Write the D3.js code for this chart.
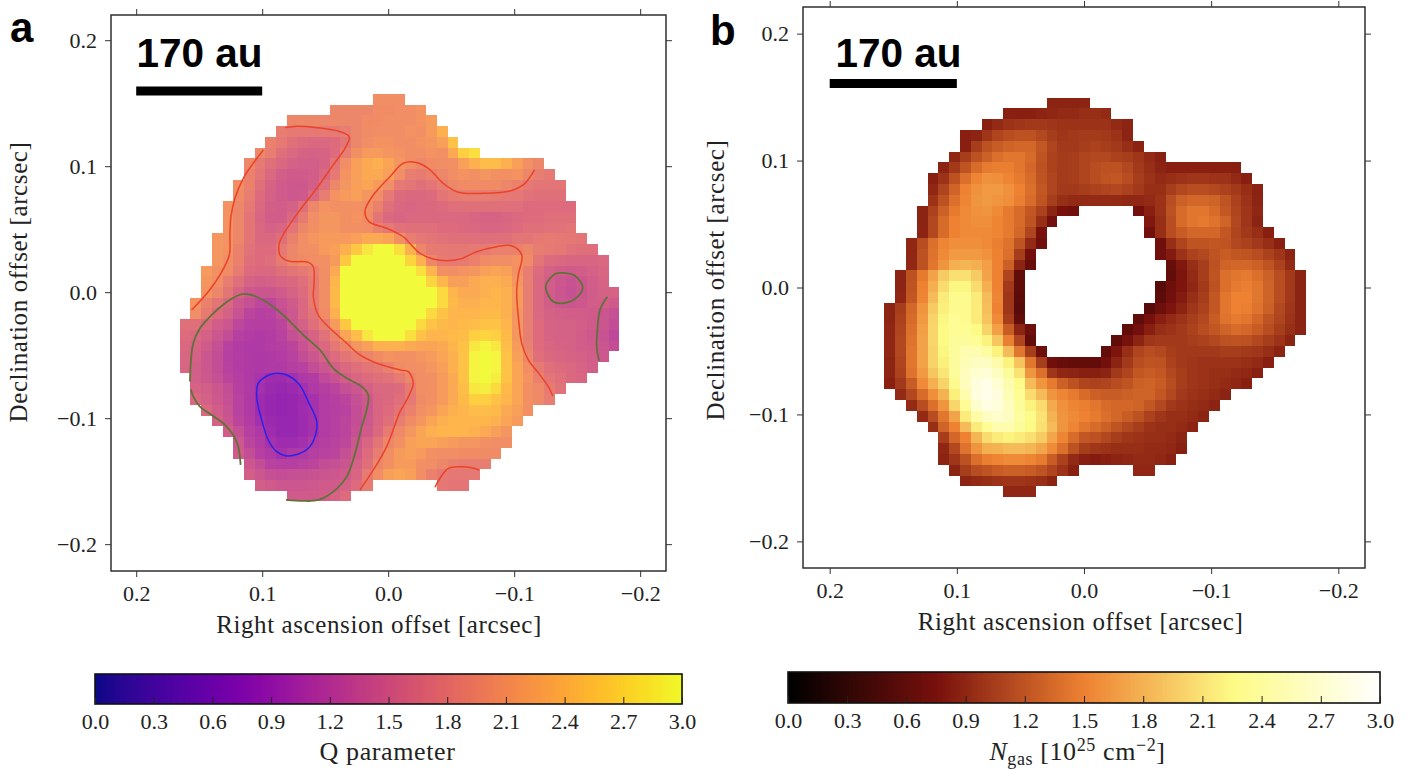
<!DOCTYPE html>
<html>
<head>
<meta charset="utf-8">
<script src="https://cdnjs.cloudflare.com/ajax/libs/d3/7.8.5/d3.min.js"></script>
<style>
html,body{margin:0;padding:0;background:#fff;}
svg{display:block;}
text{font-family:"Liberation Serif",serif;fill:#222;}
.bold{font-family:"Liberation Sans",sans-serif;font-weight:bold;fill:#000;}
</style>
</head>
<body>
<svg id="chart" width="1422" height="771"></svg>
<script>
const _ = null;
const tickVals = [0.2, 0.1, 0, -0.1, -0.2];
const barTicks = [0, 0.3, 0.6, 0.9, 1.2, 1.5, 1.8, 2.1, 2.4, 2.7, 3.0];
const pixel = 0.00851;   // arcsec per map cell

// Q parameter map, one row per declination, first column of each row in qStart
const qOrigin = [0.1655, 0.1573];
const qStart = [18,14,10,9,8,7,6,6,5,5,4,4,4,3,3,3,2,2,2,1,1,0,0,0,0,0,1,1,1,2,3,4,5,5,6,6,7,10];
const qRows = [
[2.05,2.05,2.05],
[1.97,1.97,1.97,1.97,2.02,2.02,2.05,2.05,2.1],
[1.97,1.97,1.97,1.97,1.97,1.97,1.97,2.02,2.02,2.05,2.05,2.05,2.1,2.18],
[1.87,1.82,1.82,1.82,1.82,1.82,1.87,1.97,2.02,2.05,2.05,2.05,2.1,2.08,2.18,2.38],
[1.92,1.82,1.72,1.67,1.62,1.62,1.67,1.77,1.97,2.05,2.1,2.1,2.05,2.05,2.1,2.13,2.23,2.55],
[1.97,1.87,1.72,1.62,1.57,1.54,1.57,1.67,1.87,2.08,2.18,2.18,2.13,2.1,2.05,2.05,2.1,2.08,2.33,2.65,2.8],
[1.97,1.82,1.72,1.62,1.54,1.52,1.52,1.57,1.77,2.05,2.23,2.33,2.38,2.28,2.13,2.05,1.97,2.02,2.05,2.08,2.23,2.38,2.5,2.5,2.38,2.23,2.08,1.97],
[1.92,1.77,1.62,1.52,1.47,1.47,1.5,1.62,1.82,2.1,2.23,2.33,2.33,2.23,2.05,1.87,1.84,1.92,1.97,2.05,2.1,2.08,2.13,2.08,2.08,2.1,1.97,1.87,1.82],
[2.05,1.92,1.72,1.57,1.47,1.44,1.44,1.52,1.72,1.97,2.13,2.23,2.28,2.18,2.05,1.82,1.77,1.72,1.77,1.87,1.97,2.02,2.02,2.02,2.02,1.97,1.92,1.82,1.77,1.77,1.77],
[2.02,1.87,1.67,1.54,1.47,1.44,1.45,1.62,1.87,2.1,2.18,2.23,2.13,2.05,1.82,1.67,1.64,1.64,1.67,1.77,1.84,1.87,1.87,1.87,1.84,1.82,1.8,1.74,1.72,1.72,1.72],
[2.1,1.97,1.82,1.62,1.52,1.5,1.54,1.72,1.97,2.1,2.08,2.08,2.08,2.05,1.92,1.72,1.62,1.6,1.62,1.64,1.67,1.7,1.72,1.72,1.72,1.72,1.7,1.7,1.67,1.67,1.67,1.67,1.67],
[2.1,1.97,1.77,1.6,1.5,1.5,1.62,1.84,2.05,2.13,2.13,2.08,2.1,2.02,1.77,1.64,1.6,1.62,1.64,1.64,1.64,1.64,1.62,1.6,1.57,1.57,1.6,1.64,1.67,1.67,1.7,1.7,1.7],
[2.1,1.97,1.77,1.62,1.54,1.6,1.77,1.97,2.08,2.13,2.13,2.08,2.08,2.05,1.9,1.82,1.74,1.72,1.72,1.7,1.67,1.67,1.64,1.62,1.6,1.6,1.62,1.67,1.72,1.72,1.74,1.74,1.77],
[2.13,2.1,1.97,1.77,1.64,1.62,1.72,1.92,2.05,2.13,2.18,2.18,2.18,2.23,2.33,2.33,2.28,2.08,1.87,1.8,1.77,1.74,1.72,1.72,1.7,1.7,1.7,1.72,1.77,1.77,1.82,1.84,1.82,1.8,1.77],
[2.13,2.1,1.92,1.74,1.67,1.67,1.82,1.97,2.05,2.08,2.18,2.23,2.38,2.6,2.85,3,3,2.8,2.38,1.97,1.84,1.82,1.8,1.8,1.82,1.84,1.9,1.92,1.92,1.97,1.87,1.82,1.8,1.74,1.72,1.7],
[2.13,2.05,1.92,1.72,1.67,1.7,1.84,1.97,2.02,2.05,2.08,2.18,2.6,3,3,3,3,3,2.7,2.38,1.97,1.84,1.82,1.84,1.92,2.02,2.05,2.05,2.1,2.02,1.77,1.67,1.62,1.6,1.6,1.6,1.62],
[2.18,2.08,2.02,1.84,1.67,1.62,1.64,1.72,1.77,1.82,1.9,2.05,2.33,3,3,3,3,3,3,3,2.8,2.43,2.08,2.05,2.1,2.13,2.23,2.28,2.23,2.08,1.87,1.67,1.54,1.5,1.47,1.5,1.54,1.6],
[2.13,2.05,1.87,1.7,1.57,1.52,1.54,1.6,1.64,1.7,1.84,2.05,2.43,3,3,3,3,3,3,3,3,2.7,2.43,2.23,2.23,2.33,2.38,2.38,2.33,2.13,1.87,1.62,1.5,1.42,1.37,1.42,1.5,1.57],
[2.1,1.97,1.77,1.57,1.44,1.4,1.4,1.47,1.57,1.67,1.84,2.05,2.48,3,3,3,3,3,3,3,3,3,2.75,2.43,2.33,2.33,2.38,2.43,2.38,2.18,1.87,1.62,1.48,1.4,1.34,1.4,1.48,1.54,1.57],
[2.1,1.92,1.77,1.62,1.44,1.34,1.24,1.24,1.37,1.47,1.62,1.84,2.05,2.48,3,3,3,3,3,3,3,3,3,2.75,2.48,2.38,2.38,2.43,2.43,2.38,2.18,1.87,1.62,1.5,1.42,1.4,1.44,1.5,1.5,1.47],
[2.05,1.84,1.67,1.54,1.37,1.21,1.16,1.18,1.32,1.44,1.62,1.77,2.02,2.38,3,3,3,3,3,3,3,3,2.75,2.55,2.43,2.43,2.43,2.48,2.48,2.38,2.13,1.87,1.62,1.54,1.52,1.5,1.5,1.47,1.4,1.34],
[1.72,1.72,1.62,1.5,1.42,1.24,1.16,1.14,1.14,1.21,1.42,1.54,1.7,1.87,2.18,2.6,3,3,3,3,3,3,2.75,2.55,2.48,2.43,2.48,2.5,2.55,2.55,2.43,2.13,1.87,1.67,1.57,1.54,1.54,1.52,1.47,1.4,1.32],
[1.67,1.62,1.54,1.42,1.32,1.16,1.11,1.08,1.11,1.18,1.34,1.44,1.57,1.74,1.94,2.28,2.5,2.85,3,3,3,2.8,2.55,2.43,2.43,2.48,2.5,2.65,2.7,2.65,2.48,2.13,1.87,1.67,1.57,1.54,1.54,1.5,1.44,1.37,1.24],
[1.62,1.57,1.47,1.34,1.18,1.11,1.08,1.08,1.11,1.14,1.21,1.37,1.5,1.64,1.8,1.94,2.13,2.23,2.38,2.38,2.38,2.33,2.28,2.28,2.33,2.43,2.55,2.85,2.95,2.85,2.5,2.18,1.9,1.67,1.6,1.57,1.54,1.5,1.47,1.4,1.32],
[1.6,1.54,1.42,1.32,1.16,1.11,1.08,1.06,1.08,1.11,1.18,1.32,1.42,1.54,1.67,1.77,1.87,1.94,2.02,2.1,2.08,2.08,2.13,2.18,2.28,2.38,2.55,2.95,3,2.95,2.55,2.23,1.97,1.72,1.64,1.6,1.57,1.54,1.5,1.44],
[1.6,1.52,1.42,1.32,1.18,1.11,1.08,1.06,1.08,1.08,1.14,1.18,1.32,1.42,1.52,1.62,1.7,1.77,1.82,1.9,2.02,2.05,2.08,2.13,2.23,2.38,2.55,2.95,3,2.95,2.55,2.28,2.05,1.84,1.72,1.67,1.62,1.57,1.52],
[1.52,1.44,1.34,1.21,1.14,1.08,1.0,0.92,0.92,0.95,1.06,1.11,1.27,1.37,1.5,1.6,1.67,1.7,1.74,1.84,1.97,2.05,2.08,2.18,2.33,2.55,2.95,3,2.9,2.55,2.28,2.1,1.9,1.77,1.7,1.64,1.6],
[1.57,1.52,1.42,1.32,1.16,1.08,0.95,0.88,0.85,0.88,0.95,1.08,1.14,1.21,1.34,1.42,1.54,1.62,1.64,1.67,1.84,2.04,2.08,2.18,2.33,2.5,2.85,2.9,2.75,2.48,2.28,2.08,2.0,1.84,1.74],
[1.62,1.54,1.44,1.34,1.18,1.08,0.92,0.85,0.82,0.85,0.9,0.98,1.11,1.16,1.21,1.34,1.44,1.6,1.64,1.7,1.82,2.02,2.08,2.18,2.33,2.48,2.65,2.65,2.55,2.43,2.28,2.08,2.0,1.87],
[1.62,1.5,1.37,1.18,1.08,0.92,0.85,0.82,0.85,0.92,0.98,1.11,1.14,1.18,1.32,1.42,1.6,1.67,1.77,1.92,2.07,2.13,2.28,2.38,2.43,2.5,2.5,2.48,2.33,2.23,2.08],
[1.54,1.4,1.21,1.11,0.95,0.88,0.85,0.85,0.9,0.98,1.11,1.16,1.21,1.32,1.44,1.6,1.72,1.87,2.02,2.13,2.28,2.38,2.43,2.43,2.43,2.43,2.38,2.28,2.18],
[1.5,1.34,1.16,1.06,0.92,0.85,0.85,0.9,0.98,1.11,1.16,1.21,1.34,1.47,1.64,1.84,2.0,2.13,2.28,2.38,2.43,2.43,2.43,2.38,2.33,2.23,2.13],
[1.44,1.21,1.11,0.98,0.92,0.92,0.95,1.08,1.14,1.18,1.24,1.42,1.6,1.77,1.97,2.08,2.23,2.28,2.28,2.23,2.18,2.13,2.13,2.08,2.05,2.05],
[1.47,1.32,1.16,1.08,0.98,1.06,1.08,1.14,1.18,1.21,1.34,1.47,1.67,1.87,2.05,2.18,2.23,2.18,2.08,2.05,2.05,2.02,2.02,2.02,2.02],
[1.42,1.32,1.18,1.16,1.16,1.18,1.21,1.32,1.34,1.4,1.54,1.72,1.97,2.08,2.18,2.18,2.08,2.05,1.97,1.9,1.87,1.87,1.87],
[1.52,1.42,1.34,1.32,1.34,1.34,1.37,1.4,1.42,1.47,1.6,1.84,2.05,2.23,2.28,2.23,2.05,1.92,1.82,1.8,1.8,1.82],
[1.52,1.47,1.42,1.42,1.42,1.44,1.47,1.47,1.54,1.67,1.84,_,_,_,_,_,_,1.8,1.77,1.77],
[1.47,1.47,1.47,1.5,1.57,1.67]
];

// gas column density map, units of 1e25 cm-2, nulls are the central hole
const nOrigin = [0.1571, 0.1496];
const nStart = [15,11,9,7,7,6,5,4,4,4,3,3,3,2,2,2,1,1,1,0,0,0,0,0,0,0,0,1,2,3,4,5,5,5,6,7,11];
const nRows = [
[0.88,0.88,0.88,0.88],
[0.85,0.85,0.85,0.88,0.9,0.92,0.92,0.95,0.95,0.92],
[0.85,0.92,0.98,1.0,1.02,1.02,1.0,0.98,0.98,0.98,0.98,0.98,0.92,0.88],
[0.85,0.88,1.0,1.1,1.15,1.18,1.18,1.12,1.05,1.0,1.02,1.03,1.03,1.02,0.98,0.88],
[0.85,1.05,1.18,1.25,1.3,1.32,1.32,1.22,1.1,1.02,1.02,1.05,1.08,1.05,1.02,0.95,0.87],
[0.9,1.05,1.18,1.28,1.38,1.42,1.42,1.35,1.2,1.08,1.03,1.05,1.1,1.12,1.12,1.08,1.05,1.0,0.92,0.86],
[0.88,1.02,1.2,1.35,1.45,1.48,1.48,1.42,1.32,1.18,1.08,1.03,1.05,1.1,1.15,1.18,1.18,1.12,1.02,0.95,0.88,0.85,0.85,0.85,0.85,0.85,0.85,0.85],
[0.85,0.98,1.18,1.38,1.52,1.6,1.58,1.52,1.45,1.35,1.2,1.1,1.03,1.05,1.1,1.15,1.2,1.22,1.15,1.05,0.98,0.92,0.95,0.98,1.0,1.0,0.98,0.98,0.92,0.85],
[0.9,1.1,1.3,1.5,1.6,1.65,1.65,1.6,1.5,1.38,1.22,1.1,1.02,1.02,1.05,1.08,1.1,1.12,1.08,1.02,0.95,0.95,1.05,1.12,1.15,1.15,1.12,1.08,1.02,0.95,0.87],
[0.98,1.18,1.38,1.52,1.62,1.65,1.62,1.58,1.48,1.35,1.2,1.05,0.95,0.92,0.92,0.92,0.92,0.92,0.9,0.9,0.92,0.98,1.15,1.28,1.32,1.32,1.3,1.2,1.08,0.98,0.88],
[0.88,1.08,1.28,1.45,1.55,1.6,1.62,1.55,1.45,1.35,1.22,1.08,0.88,0.75,0.7,_,_,_,_,_,0.72,0.85,0.98,1.18,1.35,1.42,1.42,1.35,1.22,1.1,1.0,0.9],
[0.88,1.12,1.35,1.5,1.55,1.58,1.58,1.52,1.45,1.35,1.2,0.95,0.72,_,_,_,_,_,_,_,_,0.8,0.95,1.15,1.35,1.42,1.45,1.4,1.3,1.12,1.0,0.88],
[0.88,1.12,1.35,1.5,1.55,1.55,1.55,1.52,1.45,1.32,1.1,0.75,_,_,_,_,_,_,_,_,_,0.72,0.95,1.15,1.25,1.32,1.32,1.32,1.22,1.1,1.02,0.95,0.85],
[0.9,1.15,1.38,1.52,1.58,1.58,1.58,1.55,1.48,1.4,1.2,0.92,0.7,_,_,_,_,_,_,_,_,_,_,0.7,0.95,1.1,1.2,1.2,1.22,1.2,1.12,1.08,1.02,0.95,0.85],
[0.9,1.18,1.4,1.55,1.65,1.65,1.65,1.6,1.5,1.38,1.05,0.72,_,_,_,_,_,_,_,_,_,_,_,0.7,0.82,0.98,1.08,1.12,1.2,1.25,1.22,1.2,1.15,1.08,1.0,0.88],
[0.9,1.18,1.42,1.62,1.78,1.82,1.78,1.68,1.5,1.28,0.88,0.65,_,_,_,_,_,_,_,_,_,_,_,_,0.65,0.8,0.95,1.05,1.18,1.3,1.32,1.32,1.28,1.2,1.08,0.92],
[0.88,1.18,1.45,1.7,1.95,2.08,2.08,1.95,1.7,1.5,1.1,0.62,_,_,_,_,_,_,_,_,_,_,_,_,_,0.62,0.78,0.92,1.05,1.2,1.38,1.42,1.45,1.38,1.28,1.15,1.02,0.88],
[0.88,1.2,1.5,1.78,2.05,2.22,2.22,2.05,1.78,1.5,1.02,0.6,_,_,_,_,_,_,_,_,_,_,_,_,0.55,0.68,0.78,0.9,1.02,1.18,1.38,1.45,1.48,1.42,1.3,1.15,1.02,0.88],
[0.9,1.22,1.52,1.85,2.15,2.3,2.32,2.15,1.85,1.52,1.0,0.58,_,_,_,_,_,_,_,_,_,_,_,_,0.58,0.72,0.82,0.95,1.05,1.22,1.42,1.5,1.5,1.42,1.3,1.15,1.02,0.88],
[0.88,1.05,1.32,1.62,1.95,2.18,2.3,2.3,2.15,1.88,1.5,1.0,0.55,_,_,_,_,_,_,_,_,_,_,_,0.55,0.68,0.78,0.88,1.0,1.08,1.22,1.42,1.5,1.48,1.4,1.28,1.12,1.0,0.88],
[0.88,1.08,1.35,1.65,2.0,2.22,2.35,2.3,2.15,1.9,1.55,1.05,0.62,_,_,_,_,_,_,_,_,_,_,0.6,0.75,0.85,0.92,0.98,1.05,1.12,1.25,1.4,1.45,1.42,1.32,1.2,1.1,0.98,0.88],
[0.9,1.1,1.38,1.68,2.02,2.25,2.35,2.35,2.25,2.0,1.68,1.25,0.88,0.68,_,_,_,_,_,_,_,_,0.6,0.72,0.85,0.95,0.98,1.02,1.08,1.15,1.22,1.3,1.35,1.32,1.25,1.15,1.05,0.95,0.88],
[0.9,1.12,1.4,1.7,2.02,2.25,2.38,2.4,2.35,2.2,1.92,1.48,1.1,0.62,_,_,_,_,_,_,_,0.6,0.75,0.88,1.0,1.02,1.02,1.02,1.05,1.08,1.12,1.18,1.2,1.18,1.12,1.05,0.98,0.88],
[0.9,1.12,1.42,1.7,2.0,2.22,2.4,2.5,2.5,2.42,2.2,1.85,1.42,1.05,0.68,_,_,_,_,_,0.62,0.78,0.95,1.1,1.15,1.12,1.05,1.02,1.02,1.02,1.02,1.05,1.05,1.02,1.0,0.95,0.87],
[0.88,1.1,1.42,1.7,2.0,2.18,2.4,2.55,2.62,2.62,2.48,2.2,1.9,1.42,1.05,0.7,0.65,0.62,0.62,0.62,0.72,0.88,1.02,1.15,1.2,1.18,1.08,1.02,1.0,0.98,0.98,0.98,0.98,0.95,0.92,0.85],
[0.88,1.08,1.4,1.65,1.92,2.12,2.38,2.6,2.72,2.75,2.62,2.38,2.1,1.62,1.38,1.0,0.9,0.88,0.85,0.85,0.88,1.02,1.1,1.22,1.25,1.22,1.12,1.05,1.0,0.98,0.95,0.95,0.92,0.9,0.85],
[0.85,1.02,1.25,1.55,1.78,2.0,2.32,2.6,2.8,2.85,2.72,2.5,2.28,1.85,1.62,1.45,1.28,1.18,1.1,1.08,1.1,1.15,1.2,1.28,1.3,1.25,1.15,1.05,1.0,0.98,0.95,0.92,0.9,0.85],
[0.92,1.12,1.35,1.58,1.8,2.18,2.5,2.8,2.88,2.8,2.55,2.35,2.05,1.85,1.62,1.52,1.45,1.35,1.28,1.25,1.25,1.28,1.3,1.3,1.22,1.12,1.02,0.98,0.95,0.92,0.88],
[0.92,1.15,1.38,1.62,2.02,2.35,2.7,2.82,2.78,2.6,2.38,2.2,2.05,1.75,1.6,1.52,1.48,1.42,1.35,1.32,1.32,1.3,1.22,1.12,1.02,0.98,0.95,0.92,0.88],
[0.92,1.15,1.42,1.7,2.15,2.45,2.62,2.68,2.62,2.42,2.28,2.1,1.8,1.62,1.55,1.5,1.45,1.38,1.32,1.25,1.18,1.08,1.0,0.95,0.95,0.92,0.88],
[0.95,1.3,1.5,1.85,2.15,2.35,2.5,2.5,2.38,2.25,2.08,1.85,1.62,1.52,1.42,1.35,1.28,1.2,1.12,1.05,0.98,0.95,0.95,0.92,0.88],
[1.05,1.32,1.5,1.82,2.05,2.15,2.2,2.15,2.08,1.95,1.72,1.52,1.35,1.22,1.18,1.12,1.05,1.0,0.98,0.95,0.95,0.92,0.88],
[0.9,1.12,1.4,1.62,1.78,1.8,1.85,1.85,1.82,1.72,1.55,1.38,1.18,1.05,1.0,0.98,0.95,0.95,0.95,0.92,0.92,0.9,0.85],
[0.88,1.0,1.18,1.38,1.48,1.52,1.55,1.55,1.52,1.45,1.25,1.08,0.92,0.85,0.82,0.85,0.88,0.9,0.92,0.92,0.9,0.86],
[0.88,1.05,1.15,1.2,1.25,1.28,1.28,1.25,1.2,1.1,0.98,0.85,_,_,_,_,_,0.9,0.9],
[0.88,0.92,0.95,0.98,1.0,1.0,0.98,0.95,0.88],
[0.9,0.9,0.9]
];

// Q contours, [RA offset, Dec offset] in arcsec
const redMain = [[.0819,.1306],[.0726,.1317],[.0567,.1306],[.0383,.1274],[.0309,.1234],[.0343,.1142],[.0436,.1010],[.0567,.0825],[.0700,.0652],[.0819,.0480],[.0864,.0388],[.0859,.0295],[.0793,.0248],[.0634,.0237],[.0594,.0202],[.0589,.0057],[.0594,-.0036],[.0555,-.0181],[.0462,-.0287],[.0343,-.0393],[.0224,-.0498],[.0091,-.0564],[-.0094,-.0617],[-.0160,-.0631],[-.0199,-.0723],[-.0147,-.0856],[-.0094,-.0948],[.0012,-.1226],[.0118,-.1411],[.0224,-.1570]];
const redEdge = [[.0991,.1129],[.1071,.1023],[.1150,.0904],[.1216,.0745],[.1248,.0599],[.1256,.0454],[.1261,.0295],[.1335,.0137],[.1428,.0004],[.1560,-.0141]];
const redMid = [[-.1160,.0970],[-.1086,.0864],[-.0967,.0803],[-.0755,.0785],[-.0556,.0793],[-.0437,.0864],[-.0318,.0983],[-.0213,.1031],[-.0120,.1023],[-.0014,.0917],[.0118,.0771],[.0184,.0644],[.0152,.0560],[.0012,.0507],[-.0120,.0440],[-.0160,.0401],[-.0252,.0309],[-.0358,.0263],[-.0464,.0250],[-.0570,.0263],[-.0702,.0321],[-.0861,.0361],[-.0980,.0369],[-.1060,.0295],[-.1033,.0137],[-.1020,.0004],[-.1033,-.0194],[-.1060,-.0406],[-.1112,-.0538],[-.1205,-.0657],[-.1271,-.0750],[-.1306,-.0824]];
const redLow = [[-.0371,-.1548],[-.0411,-.1477],[-.0477,-.1398],[-.0570,-.1385],[-.0663,-.1393],[-.0723,-.1411]];
const greenRing = [[-.1324,.0144],[-.1403,.0152],[-.1483,.0131],[-.1544,.0044],[-.1536,.0004],[-.1469,-.0062],[-.1390,-.0088],[-.1310,-.0075],[-.1258,.0004],[-.1252,.0057]];
const greenRight = [[-.1739,-.0036],[-.1681,-.0141],[-.1660,-.0300],[-.1655,-.0433],[-.1673,-.0544]];
const greenMain = [[.1573,-.0710],[.1567,-.0564],[.1547,-.0406],[.1494,-.0287],[.1401,-.0181],[.1295,-.0088],[.1202,-.0030],[.1137,-.0014],[.1044,-.0036],[.0912,-.0115],[.0806,-.0207],[.0674,-.0340],[.0541,-.0459],[.0436,-.0604],[.0329,-.0683],[.0210,-.0750],[.0158,-.0816],[.0171,-.0935],[.0210,-.1067],[.0263,-.1279],[.0329,-.1464],[.0436,-.1583],[.0555,-.1649],[.0674,-.1657],[.0811,-.1649]];
const greenLow = [[.1567,-.0771],[.1547,-.0829],[.1494,-.0909],[.1401,-.0975],[.1309,-.1040],[.1229,-.1133],[.1190,-.1226],[.1171,-.1371]];
const blueRing = [[.0885,-.0644],[.0806,-.0657],[.0713,-.0723],[.0634,-.0869],[.0567,-.1028],[.0581,-.1147],[.0634,-.1239],[.0713,-.1284],[.0806,-.1300],[.0885,-.1266],[.0952,-.1173],[.1004,-.1014],[.1044,-.0829],[.1031,-.0723],[.0964,-.0665]];

const contourSets = [
  {pts: redMain, color: '#ea4328', w: 1.5}, {pts: redEdge, color: '#ea4328', w: 1.5},
  {pts: redMid, color: '#ea4328', w: 1.5}, {pts: redLow, color: '#ea4328', w: 1.5},
  {pts: greenRing, color: '#5f7238', w: 1.8, closed: true}, {pts: greenRight, color: '#5f7238', w: 1.8},
  {pts: greenMain, color: '#5f7238', w: 1.8}, {pts: greenLow, color: '#5f7238', w: 1.8},
  {pts: blueRing, color: '#2a22ea', w: 1.5, closed: true}
];

const svg = d3.select('#chart');

// afmhot as it looks in the figure
const afmhot = d3.scaleLinear()
    .domain([0, 0.75, 1.5, 2.25, 3])
    .range(['#000000', '#78100c', '#ee8232', '#fdfb85', '#ffffff'])
    .clamp(true);
const plasma = v => d3.interpolatePlasma(Math.min(v / 3, 1));

function drawPanel(opt){
    let x = d3.scaleLinear().domain(opt.xDomain).range(opt.xRange),
        y = d3.scaleLinear().domain(opt.yDomain).range(opt.yRange);
    let g = svg.append('g');

    // map cells
    let cells = [];
    opt.rows.forEach((row, r)=>{
        row.forEach((v, i)=>{
            if(v !== null) cells.push({r: r, c: opt.start[r] + i, v: v});
        });
    });
    g.selectAll('rect.cell').data(cells).enter().append('rect')
        .attr('class', 'cell')
        .attr('x', d=>x(opt.origin[0] - d.c * pixel))
        .attr('y', d=>y(opt.origin[1] - d.r * pixel))
        .attr('width', d=>x(opt.origin[0] - (d.c + 1) * pixel) - x(opt.origin[0] - d.c * pixel))
        .attr('height', d=>y(opt.origin[1] - (d.r + 1) * pixel) - y(opt.origin[1] - d.r * pixel))
        .attr('shape-rendering', 'crispEdges')
        .attr('fill', d=>opt.color(d.v))
        .attr('fill-opacity', opt.alpha);

    // contours
    (opt.contours || []).forEach(s=>{
        let line = d3.line().x(d=>x(d[0])).y(d=>y(d[1]))
            .curve(s.closed ? d3.curveCatmullRomClosed : d3.curveCatmullRom);
        g.append('path').attr('d', line(s.pts)).attr('fill', 'none')
            .attr('stroke', s.color).attr('stroke-width', s.w);
    });

    // frame and ticks on all four sides
    g.append('rect').attr('x', opt.xRange[0]).attr('y', opt.yRange[0])
        .attr('width', opt.xRange[1] - opt.xRange[0]).attr('height', opt.yRange[1] - opt.yRange[0])
        .attr('fill', 'none').attr('stroke', '#222').attr('stroke-width', 1.4);

    let fmt = d=>d3.format('.1f')(d).replace('-', '\u2212');
    let axes = [
        [d3.axisBottom(x).tickFormat(fmt), 0, opt.yRange[1]],
        [d3.axisTop(x).tickFormat(''), 0, opt.yRange[0]],
        [d3.axisLeft(y).tickFormat(fmt), opt.xRange[0], 0],
        [d3.axisRight(y).tickFormat(''), opt.xRange[1], 0]
    ];
    axes.forEach(a=>{
        let ag = g.append('g').attr('transform', `translate(${a[1]},${a[2]})`)
            .call(a[0].tickValues(tickVals).tickSize(6).tickPadding(8));
        ag.select('.domain').remove();
        ag.selectAll('line').attr('stroke', '#333').attr('stroke-width', 1);
        ag.selectAll('text').style('font-size', '22px').attr('font-family', null);
    });

    // axis titles
    g.append('text').attr('x', opt.xTitleX).attr('y', opt.xTitleY)
        .attr('text-anchor', 'middle').style('font-size', '25px').style('letter-spacing', '0.6px')
        .text('Right ascension offset [arcsec]');
    g.append('text').attr('transform', `translate(${opt.yTitleX},${opt.yTitleMid}) rotate(-90)`)
        .attr('text-anchor', 'middle').style('font-size', '25px').style('letter-spacing', '0.6px')
        .text('Declination offset [arcsec]');

    // panel letter and scale bar
    g.append('text').attr('class', 'bold').attr('x', opt.letterX).attr('y', opt.letterY)
        .style('font-size', '42px').text(opt.letter);
    g.append('text').attr('class', 'bold').attr('x', opt.scaleTextX).attr('y', opt.scaleTextY)
        .attr('text-anchor', 'middle').style('font-size', '40.5px').text('170 au');
    g.append('line').attr('x1', x(0.2)).attr('x2', x(0.1)).attr('y1', opt.scaleBarY).attr('y2', opt.scaleBarY)
        .attr('stroke', '#000').attr('stroke-width', 9);

    // colour bar
    let cb = d3.scaleLinear().domain([0, 3]).range(opt.barX);
    g.selectAll('rect.bar').data(d3.range(0, 3, 0.01)).enter().append('rect')
        .attr('class', 'bar')
        .attr('x', d=>cb(d)).attr('width', d=>cb(d + 0.01) - cb(d) + 0.5)
        .attr('y', opt.barY[0]).attr('height', opt.barY[1] - opt.barY[0])
        .attr('shape-rendering', 'crispEdges')
        .attr('fill', d=>opt.color(d));
    g.append('rect').attr('x', opt.barX[0]).attr('y', opt.barY[0])
        .attr('width', opt.barX[1] - opt.barX[0]).attr('height', opt.barY[1] - opt.barY[0])
        .attr('fill', 'none').attr('stroke', '#111').attr('stroke-width', 1.6);
    let cbAxis = g.append('g').attr('transform', `translate(0,${opt.barY[1]})`)
        .call(d3.axisBottom(cb).tickValues(barTicks).tickFormat(d3.format('.1f')).tickSize(-7).tickPadding(9));
    cbAxis.select('.domain').remove();
    cbAxis.selectAll('line').attr('stroke', '#222');
    cbAxis.selectAll('text').style('font-size', '22px').attr('font-family', null);

    opt.barTitle(g.append('text').attr('x', opt.barTitleX).attr('y', opt.barTitleY)
        .attr('text-anchor', 'middle').style('font-size', '26px').style('letter-spacing', '0.6px'));
}

drawPanel({
    letter: 'a', letterX: 10, letterY: 42,
    rows: qRows, start: qStart, origin: qOrigin, color: plasma, alpha: 0.88,
    xDomain: [0.22, -0.2205], xRange: [111, 666],
    yDomain: [0.22, -0.2213], yRange: [15, 571],
    contours: contourSets,
    xTitleX: 379, xTitleY: 633, yTitleX: 27, yTitleMid: 282,
    scaleTextX: 199.5, scaleTextY: 67, scaleBarY: 91,
    barX: [95, 682], barY: [674, 704], barTitleX: 387.5, barTitleY: 760,
    barTitle: t=>t.text('Q parameter')
});

drawPanel({
    letter: 'b', letterX: 710, letterY: 45,
    rows: nRows, start: nStart, origin: nOrigin, color: afmhot, alpha: 1,
    xDomain: [0.221, -0.221], xRange: [803, 1365],
    yDomain: [0.221, -0.221], yRange: [7, 568],
    xTitleX: 1080.5, xTitleY: 630, yTitleX: 724, yTitleMid: 280,
    scaleTextX: 898.5, scaleTextY: 67, scaleBarY: 83.5,
    barX: [788, 1380], barY: [672, 703], barTitleX: 1077.5, barTitleY: 760,
    barTitle: t=>{
        t.append('tspan').style('font-style', 'italic').text('N');
        t.append('tspan').attr('dy', 5).style('font-size', '18px').text('gas');
        t.append('tspan').attr('dy', -5).text(' [10');
        t.append('tspan').attr('dy', -9).style('font-size', '18px').text('25');
        t.append('tspan').attr('dy', 9).text(' cm');
        t.append('tspan').attr('dy', -9).style('font-size', '18px').text('\u22122');
        t.append('tspan').attr('dy', 9).text(']');
    }
});
</script>
</body>
</html>
